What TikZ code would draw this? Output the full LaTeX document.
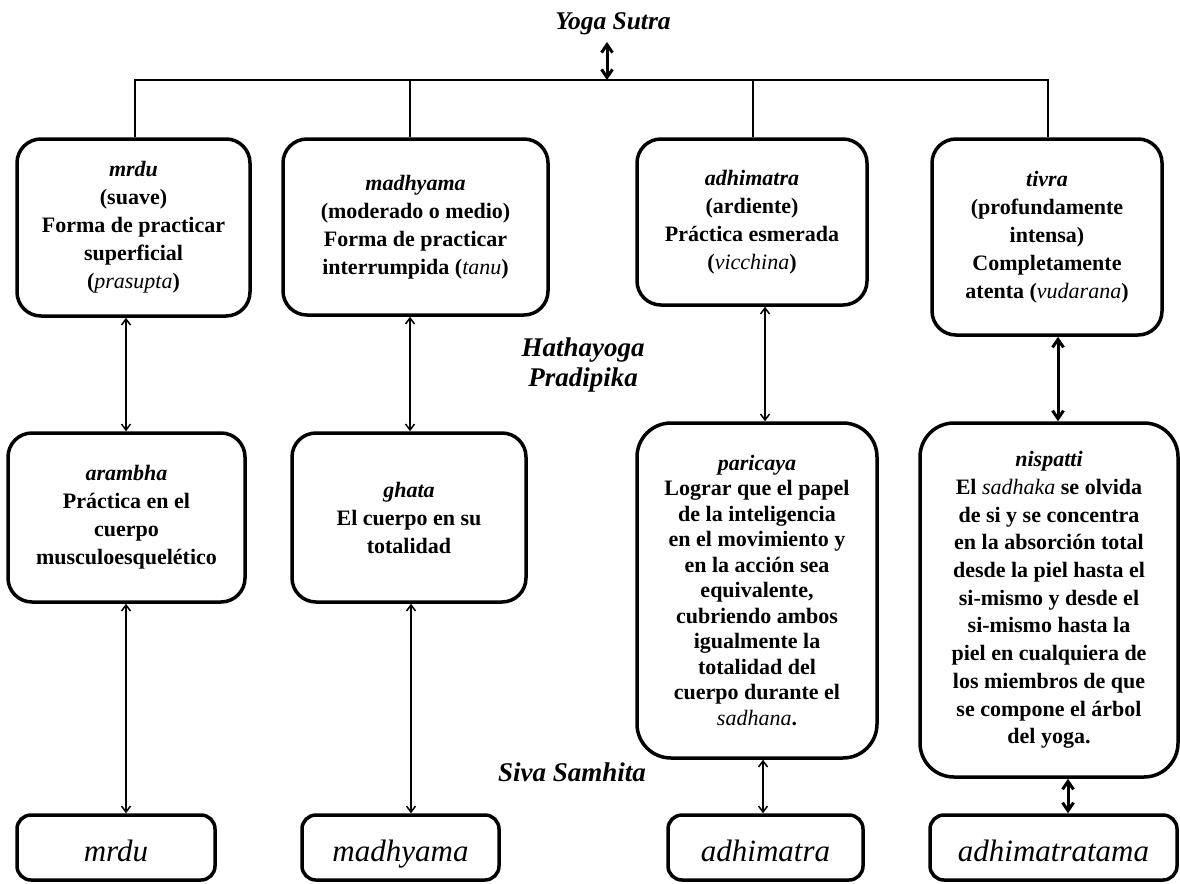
\documentclass[tikz,border=0pt]{standalone}
\usepackage{fontspec}
\setmainfont{Liberation Serif}
\usetikzlibrary{arrows.meta}
\newcommand\ital[1]{{\mdseries\itshape #1}}
\newcommand\ttl[1]{{\bfseries\itshape #1}}
\begin{document}
\begin{tikzpicture}[x=1pt,y=-1pt,
  box/.style={draw, line width=3.5pt, rounded corners=24pt, inner sep=0pt, align=center,
    font=\fontsize{22}{28}\selectfont\bfseries},
  tallbox/.style={box, rounded corners=34pt},
  endbox/.style={draw, line width=3.5pt, rounded corners=14pt, inner sep=0pt,
    minimum height=65pt, text height=28pt, text depth=1pt,
    font=\fontsize{31}{34}\selectfont\itshape},
  tree/.style={line width=2pt},
  arr/.style={line width=1.5pt, {Straight Barb[length=6pt,width=9pt]}-{Straight Barb[length=6pt,width=9pt]}},
  thickarr/.style={line width=3pt, {Straight Barb[length=8pt,width=11pt]}-{Straight Barb[length=8pt,width=11pt]}},
  src/.style={font=\fontsize{27}{30}\selectfont\bfseries\itshape, align=center, inner sep=0pt}
]
\useasboundingbox (0,0) rectangle (1180,883);

% sources
\node[src, font=\fontsize{25.5}{28}\selectfont\bfseries\itshape] (ys) at (613,24) {Yoga Sutra};
\node[src] (hp) at (583,365) {Hathayoga\\Pradipika};
\node[src] (ss) at (572,772) {Siva Samhita};

% top row
\node[box, minimum width=233pt, minimum height=177pt] (b1) at (133.5,227.5)
  {\ttl{mrdu}\\(suave)\\Forma de practicar\\superficial\\(\ital{prasupta})};
\node[box, minimum width=265pt, minimum height=176pt] (b2) at (415.5,227)
  {\ttl{madhyama}\\(moderado o medio)\\Forma de practicar\\interrumpida (\ital{tanu})};
\node[box, minimum width=230pt, minimum height=166pt] (b3) at (752,222)
  {\ttl{adhimatra}\\(ardiente)\\Práctica esmerada\\(\ital{vicchina})};
\node[box, minimum width=230pt, minimum height=196pt] (b4) at (1047,237)
  {\ttl{tivra}\\(profundamente\\intensa)\\Completamente\\atenta (\ital{vudarana})};

% middle row
\node[box, minimum width=237pt, minimum height=169pt] (b5) at (126.5,517.5)
  {\ttl{arambha}\\Práctica en el\\cuerpo\\musculoesquelético};
\node[box, minimum width=234pt, minimum height=169pt] (b6) at (409,517.5)
  {\ttl{ghata}\\El cuerpo en su\\totalidad};
\node[tallbox, minimum width=240pt, minimum height=335pt,
  font=\fontsize{22}{25.5}\selectfont\bfseries] (b7) at (757,590.5)
  {\ttl{paricaya}\\Lograr que el papel\\de la inteligencia\\en el movimiento y\\en la acción sea\\equivalente,\\cubriendo ambos\\igualmente la\\totalidad del\\cuerpo durante el\\\ital{sadhana}.};
\node[tallbox, minimum width=258pt, minimum height=354pt,
  font=\fontsize{22}{27.7}\selectfont\bfseries] (b8) at (1049,600)
  {\ttl{nispatti}\\El \ital{sadhaka} se olvida\\de si y se concentra\\en la absorción total\\desde la piel hasta el\\si-mismo y desde el\\si-mismo hasta la\\piel en cualquiera de\\los miembros de que\\se compone el árbol\\del yoga.};

% bottom row
\node[endbox, minimum width=198pt] (e1) at (116,847.5) {mrdu};
\node[endbox, minimum width=197pt] (e2) at (400.5,847.5) {madhyama};
\node[endbox, minimum width=195pt] (e3) at (765.5,847.5) {adhimatra};
\node[endbox, minimum width=247pt] (e4) at (1053.5,847.5) {adhimatratama};

% tree from Yoga Sutra
\coordinate (hub) at (607,80);
\coordinate (ysa) at (607,42);
\draw[thickarr] (ysa) -- (hub);
\draw[tree] ([xshift=1.5pt]b1.north) |- ([xshift=1pt]b4.north |- hub) -- ([xshift=1pt]b4.north);
\draw[tree] ([xshift=-5.5pt]b2.north) -- ([xshift=-5.5pt]b2.north |- hub);
\draw[tree] ([xshift=1pt]b3.north) -- ([xshift=1pt]b3.north |- hub);

% vertical connectors
\draw[arr] ([xshift=-7.5pt]b1.south) -- ([xshift=-0.5pt]b5.north);
\draw[arr] ([xshift=-0.5pt]b5.south) -- ([xshift=10pt]e1.north);
\draw[arr] ([xshift=-5.5pt]b2.south) -- ([xshift=1pt]b6.north);
\draw[arr] ([xshift=2pt]b6.south) -- ([xshift=10.5pt]e2.north);
\draw[arr] ([xshift=13pt]b3.south) -- ([xshift=8pt]b7.north);
\draw[arr] ([xshift=6pt]b7.south) -- ([xshift=-2.5pt]e3.north);
\draw[thickarr] ([xshift=11pt]b4.south) -- ([xshift=9pt]b8.north);
\draw[thickarr] ([xshift=19pt]b8.south) -- ([xshift=14.5pt]e4.north);
\end{tikzpicture}
\end{document}
